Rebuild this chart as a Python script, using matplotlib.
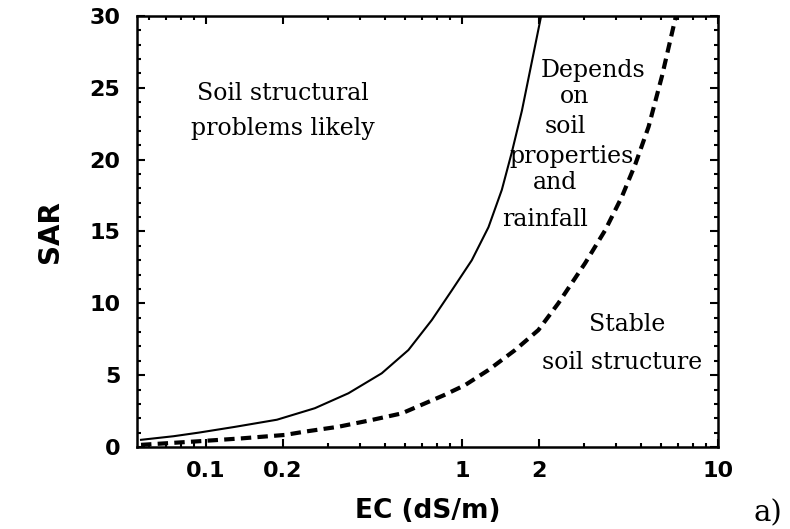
import numpy as np
import matplotlib.pyplot as plt
from matplotlib.ticker import FixedLocator, LogLocator, MultipleLocator, NullFormatter

# Threshold curves, SAR vs EC (dS/m)
ec_solid = [0.056, 0.075, 0.094, 0.13, 0.19, 0.267, 0.361, 0.487, 0.619, 0.764,
            0.914, 1.094, 1.271, 1.433, 1.567, 1.716, 1.876, 2.04]
sar_solid = [0.5, 0.75, 1.0, 1.4, 1.9, 2.7, 3.74, 5.13, 6.75, 8.84,
             10.9, 13.0, 15.3, 17.9, 20.5, 23.4, 26.8, 30.0]

ec_dash = [0.056, 0.094, 0.138, 0.204, 0.244, 0.33, 0.445, 0.583, 0.719, 0.85,
           1.03, 1.271, 1.615, 1.99, 2.38, 3.03, 3.63, 4.21, 4.76, 5.36, 6.04, 6.85]
sar_dash = [0.15, 0.4, 0.6, 0.84, 1.07, 1.41, 1.88, 2.34, 3.04, 3.6,
            4.31, 5.36, 6.75, 8.14, 10.0, 12.8, 15.1, 17.4, 19.7, 22.3, 25.8, 30.0]

x_ticks = [0.1, 0.2, 1, 2, 10]
x_labels = ['0.1', '0.2', '1', '2', '10']
y_ticks = [0, 5, 10, 15, 20, 25, 30]

fig = plt.figure(figsize=(7.9, 5.29), dpi=100)
ax = fig.add_axes([0.1734, 0.155, 0.7355, 0.8148])

ax.plot(ec_solid, sar_solid, '-k', linewidth=1.5)
ax.plot(ec_dash, sar_dash, color='k', linewidth=3, linestyle=(0, (2.5, 1.5)))

ax.set_xscale('log')
ax.set_xlim(0.054, 10.0)
ax.set_ylim(0, 30)

ax.xaxis.set_major_locator(FixedLocator(x_ticks))
ax.set_xticklabels(x_labels)
ax.xaxis.set_minor_locator(LogLocator(base=10, subs=np.arange(2, 10)))
ax.xaxis.set_minor_formatter(NullFormatter())
ax.set_yticks(y_ticks)
ax.yaxis.set_minor_locator(MultipleLocator(1))

ax.tick_params(which='both', direction='in', top=True, right=True, width=1.5)
ax.tick_params(which='major', length=6, labelsize=16)
ax.tick_params(axis='x', which='major', pad=10)
ax.tick_params(axis='y', which='major', pad=12)
ax.tick_params(which='minor', length=3)
for lab in ax.get_xticklabels() + ax.get_yticklabels():
    lab.set_fontweight('bold')
for sp in ax.spines.values():
    sp.set_linewidth(1.8)

ax.set_xlabel('EC (dS/m)', fontsize=19, fontweight='bold', labelpad=12)
ax.set_ylabel('SAR', fontsize=20, fontweight='bold')
ax.yaxis.set_label_coords(-0.125, 0.5)

serif = 'DejaVu Serif'
ax.text(0.2, 23.4, 'Soil structural\nproblems likely', family=serif, fontsize=17,
        ha='center', va='center', linespacing=1.65)

depends = ['Depends', 'on', 'soil', 'properties', 'and', 'rainfall']
depends_pos = [(3.25, 26.2), (2.76, 24.4), (2.53, 22.3), (2.69, 20.2), (2.31, 18.4), (2.11, 15.8)]
for word, (xx, yy) in zip(depends, depends_pos):
    ax.text(xx, yy, word, family=serif, fontsize=17, ha='center', va='center')

ax.text(4.41, 8.5, 'Stable', family=serif, fontsize=17, ha='center', va='center')
ax.text(4.21, 5.85, 'soil structure', family=serif, fontsize=17, ha='center', va='center')

fig.text(0.972, 0.03, 'a)', family=serif, fontsize=21, ha='center', va='center')

fig.savefig('out.png', dpi=100)
